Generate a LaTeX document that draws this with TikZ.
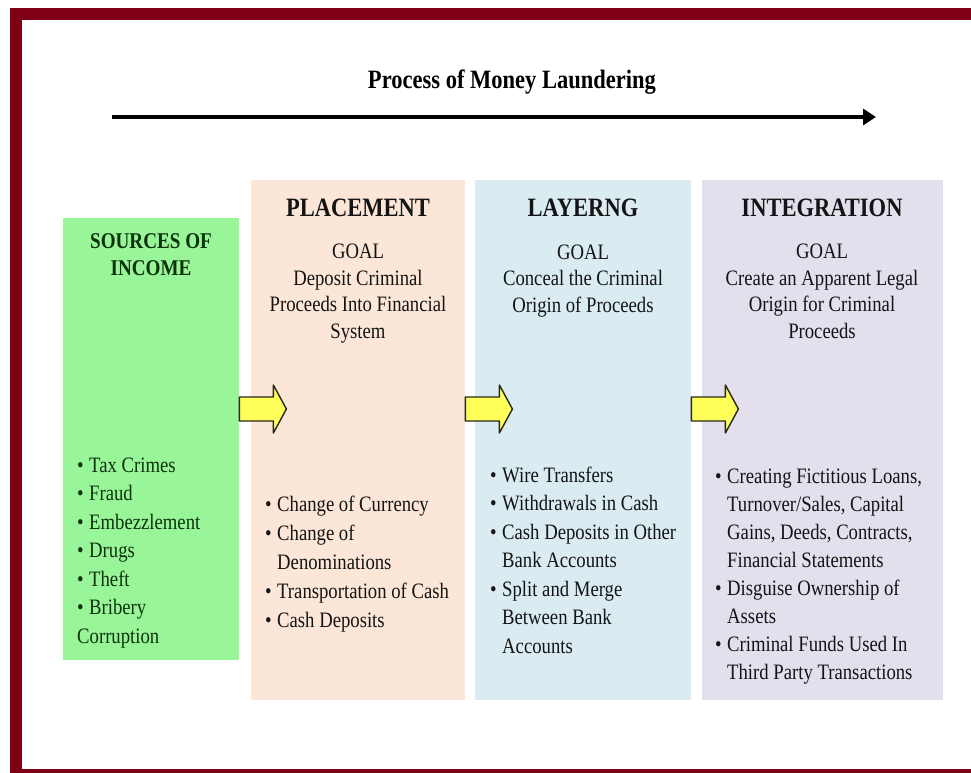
\documentclass[tikz,border=0pt]{standalone}
\usepackage{fontspec}
\setmainfont[FakeStretch=0.85]{Liberation Serif}
\usetikzlibrary{arrows.meta}

\definecolor{frameRed}{RGB}{128,0,22}
\definecolor{srcGreen}{RGB}{152,245,152}
\definecolor{placePeach}{RGB}{251,230,215}
\definecolor{layerBlue}{RGB}{218,236,242}
\definecolor{integLilac}{RGB}{228,223,236}
\definecolor{textGrey}{RGB}{20,20,20}
\definecolor{textGreen}{RGB}{12,50,12}
\definecolor{arrowYellow}{RGB}{255,255,90}
\definecolor{arrowEdge}{RGB}{40,40,25}

\newcommand{\itm}{\makebox[12pt][l]{\textbullet}}
\newcommand{\cnt}{\hspace*{12pt}}

\begin{document}
\begin{tikzpicture}[x=1pt,y=1pt,
  stage/.style={rectangle,anchor=north west},
  stagehead/.style={anchor=base,font=\bfseries\fontsize{26.5}{30}\selectfont,text=textGrey},
  goaltext/.style={anchor=base,align=center,font=\fontsize{22}{26.5}\selectfont,text=textGrey},
  bulletlist/.style={anchor=base west,align=left,font=\fontsize{22}{28.5}\selectfont,text=textGrey},
  blockarrow/.style={draw=arrowEdge,fill=arrowYellow,line width=1.4pt,line join=round}]
\tikzstyle{every node}+=[inner sep=0pt]
\clip (0,0) rectangle (971,-773);
\fill [white] (0,0) rectangle (971,-773);
\draw [frameRed,line width=12] (16,-14) rectangle (1000,-775);
\node [stagehead,text=black] (title) at (512,-89) {Process of Money Laundering};
\coordinate (flowStart) at (112,-117);
\coordinate (flowEnd) at (876,-117);
\draw [line width=4,-{Triangle[length=13,width=16]}] (flowStart) -- (flowEnd);
\node [stage,fill=srcGreen,minimum width=176,minimum height=442] (src) at (63,-218) {};
\node [stage,fill=placePeach,minimum width=214,minimum height=520] (place) at (251,-180) {};
\node [stage,fill=layerBlue,minimum width=216,minimum height=520] (layer) at (475,-180) {};
\node [stage,fill=integLilac,minimum width=241,minimum height=520] (integ) at (702,-180) {};
\foreach \from in {src,place,layer}
  \draw [blockarrow] (\from.east |- 0,-397) -- ++(34,0) -- ++(0,12) -- ++(13,-24) -- ++(-13,-24) -- ++(0,12) -- ++(-34,0) -- cycle;
\node [stagehead,align=center,font=\bfseries\fontsize{22.5}{27}\selectfont,text=textGreen] (srcHead) at (151,-275) {SOURCES OF\\INCOME};
\node [bulletlist,text=textGreen] (srcList) at (77,-643) {\itm Tax Crimes\\\itm Fraud\\\itm Embezzlement\\\itm Drugs\\\itm Theft\\\itm Bribery\\Corruption};
\node [stagehead] (placeHead) at (358,-216) {PLACEMENT};
\node [goaltext] (placeGoal) at (358,-338) {GOAL\\Deposit Criminal\\Proceeds Into Financial\\System};
\node [bulletlist,font=\fontsize{22}{29}\selectfont] (placeList) at (265,-627) {\itm Change of Currency\\\itm Change of\\\cnt Denominations\\\itm Transportation of Cash\\\itm Cash Deposits};
\node [stagehead] (layerHead) at (583,-216) {LAYERNG};
\node [goaltext] (layerGoal) at (583,-312) {GOAL\\Conceal the Criminal\\Origin of Proceeds};
\node [bulletlist] (layerList) at (490,-653) {\itm Wire Transfers\\\itm Withdrawals in Cash\\\itm Cash Deposits in Other\\\cnt Bank Accounts\\\itm Split and Merge\\\cnt Between Bank\\\cnt Accounts};
\node [stagehead] (integHead) at (822,-216) {INTEGRATION};
\node [goaltext] (integGoal) at (822,-338) {GOAL\\Create an Apparent Legal\\Origin for Criminal\\Proceeds};
\node [bulletlist,font=\fontsize{22}{28}\selectfont] (integList) at (715,-679) {\itm Creating Fictitious Loans,\\\cnt Turnover/Sales, Capital\\\cnt Gains, Deeds, Contracts,\\\cnt Financial Statements\\\itm Disguise Ownership of\\\cnt Assets\\\itm Criminal Funds Used In\\\cnt Third Party Transactions};
\end{tikzpicture}
\end{document}
